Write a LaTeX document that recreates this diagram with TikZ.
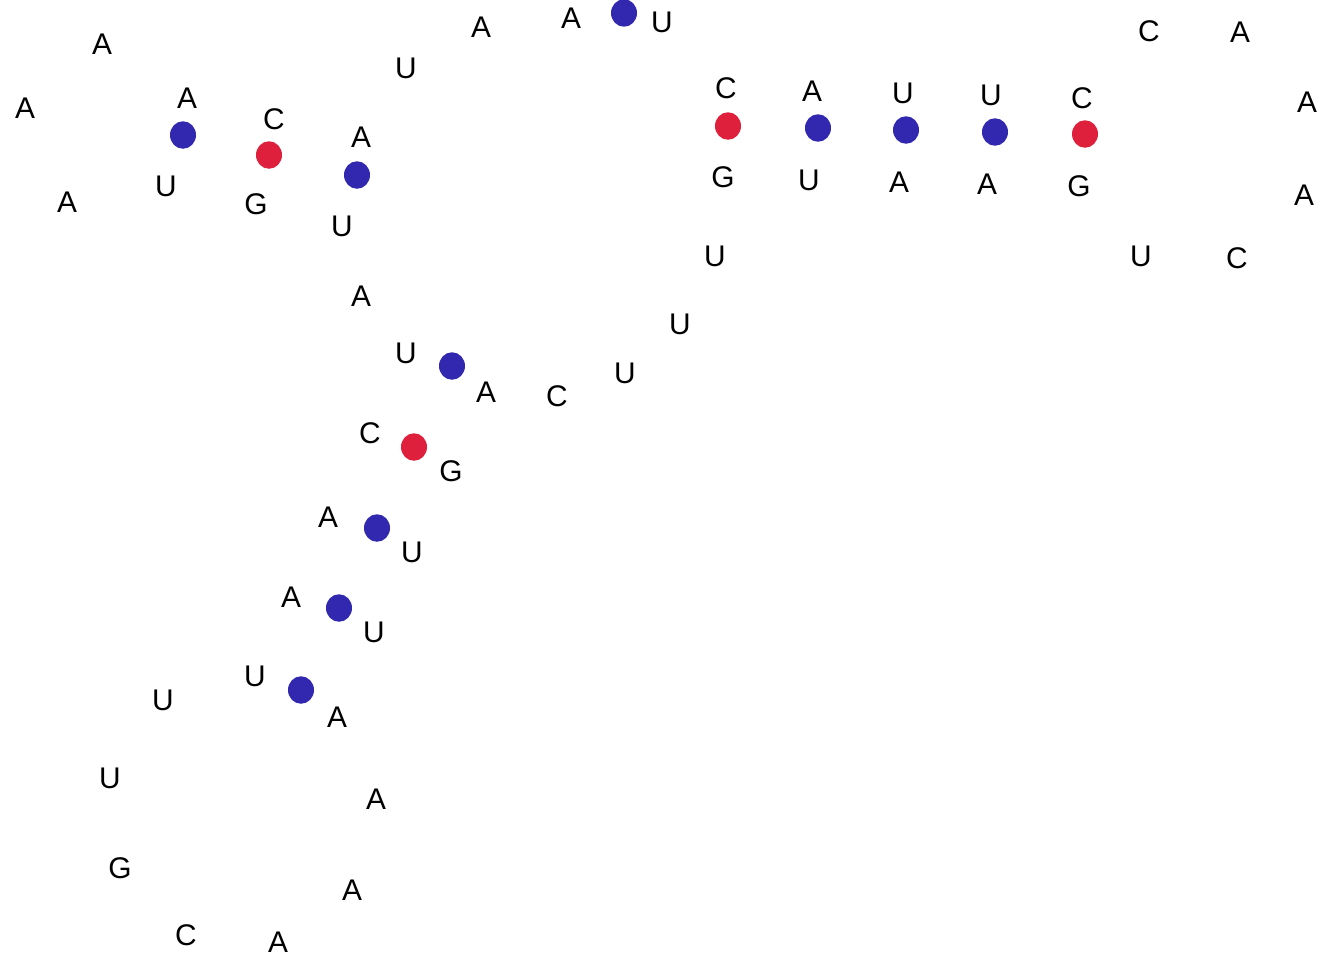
\documentclass[tikz,border=0pt]{standalone}
\usepackage{fontspec}
\setmainfont{Liberation Sans}
\usetikzlibrary{shapes.geometric}
\definecolor{pairblue}{RGB}{50,40,175}
\definecolor{pairred}{RGB}{222,32,60}

\begin{document}
\begin{tikzpicture}[
    x=0.02cm, y=-0.02cm,
    base/.style={inner sep=0pt, font=\fontsize{17}{17}\selectfont},
    pair/.style={ellipse, inner sep=0pt, minimum width=0.52cm, minimum height=0.55cm},
    weak/.style={pair, fill=pairblue},
    strong/.style={pair, fill=pairred}
]
    \useasboundingbox (0,0) rectangle (1326,967);

    % Bases, 5' to 3'
    \node[base] (b1)  at (571,18)  {A};
    \node[base] (b2)  at (481,27)  {A};
    \node[base] (b3)  at (406,68)  {U};
    \node[base] (b4)  at (361,137) {A};
    \node[base] (b5)  at (274,119) {C};
    \node[base] (b6)  at (187,98)  {A};
    \node[base] (b7)  at (102,44)  {A};
    \node[base] (b8)  at (25,108)  {A};
    \node[base] (b9)  at (67,202)  {A};
    \node[base] (b10) at (166,186) {U};
    \node[base] (b11) at (256,204) {G};
    \node[base] (b12) at (342,226) {U};
    \node[base] (b13) at (361,296) {A};
    \node[base] (b14) at (406,353) {U};
    \node[base] (b15) at (370,433) {C};
    \node[base] (b16) at (328,517) {A};
    \node[base] (b17) at (291,597) {A};
    \node[base] (b18) at (255,676) {U};
    \node[base] (b19) at (163,700) {U};
    \node[base] (b20) at (110,778) {U};
    \node[base] (b21) at (120,868) {G};
    \node[base] (b22) at (186,935) {C};
    \node[base] (b23) at (278,942) {A};
    \node[base] (b24) at (352,890) {A};
    \node[base] (b25) at (376,799) {A};
    \node[base] (b26) at (337,717) {A};
    \node[base] (b27) at (374,632) {U};
    \node[base] (b28) at (412,552) {U};
    \node[base] (b29) at (451,471) {G};
    \node[base] (b30) at (486,392) {A};
    \node[base] (b31) at (557,396) {C};
    \node[base] (b32) at (625,373) {U};
    \node[base] (b33) at (680,324) {U};
    \node[base] (b34) at (715,256) {U};
    \node[base] (b35) at (723,177) {G};
    \node[base] (b36) at (809,180) {U};
    \node[base] (b37) at (899,182) {A};
    \node[base] (b38) at (987,184) {A};
    \node[base] (b39) at (1079,186) {G};
    \node[base] (b40) at (1141,256) {U};
    \node[base] (b41) at (1237,258) {C};
    \node[base] (b42) at (1304,195) {A};
    \node[base] (b43) at (1307,102) {A};
    \node[base] (b44) at (1240,32)  {A};
    \node[base] (b45) at (1149,31)  {C};
    \node[base] (b46) at (1082,98)  {C};
    \node[base] (b47) at (991,95)   {U};
    \node[base] (b48) at (903,93)   {U};
    \node[base] (b49) at (812,91)   {A};
    \node[base] (b50) at (726,88)   {C};
    \node[base] (b51) at (662,22)   {U};

    % Base pairs
    \node[weak]   (p1-51)  at (624,13)  {};
    \node[weak]   (p4-12)  at (357,175) {};
    \node[strong] (p5-11)  at (269,155) {};
    \node[weak]   (p6-10)  at (183,135) {};
    \node[weak]   (p14-30) at (452,366) {};
    \node[strong] (p15-29) at (414,447) {};
    \node[weak]   (p16-28) at (377,528) {};
    \node[weak]   (p17-27) at (339,608) {};
    \node[weak]   (p18-26) at (301,690) {};
    \node[strong] (p35-50) at (728,126) {};
    \node[weak]   (p36-49) at (818,128) {};
    \node[weak]   (p37-48) at (906,130) {};
    \node[weak]   (p38-47) at (995,132) {};
    \node[strong] (p39-46) at (1085,134) {};
\end{tikzpicture}
\end{document}
